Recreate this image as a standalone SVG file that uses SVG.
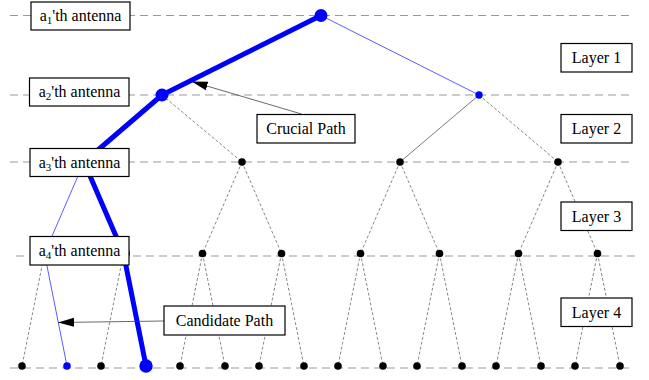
<svg xmlns="http://www.w3.org/2000/svg" width="649" height="380" viewBox="0 0 649 380">
  <style>
    .layer { stroke: #999; stroke-width: 1.2; stroke-dasharray: 8 5; fill: none; }
    .edge { stroke: #555; stroke-width: 0.7; stroke-dasharray: 3 2; fill: none; }
    .solid { stroke: #444; stroke-width: 0.7; fill: none; }
    .thin-blue { stroke: #4a4aff; stroke-width: 0.9; fill: none; }
    .thick-blue { stroke: #0000ff; stroke-width: 5; fill: none; stroke-linejoin: round; stroke-linecap: round; }
    .pointer { stroke: #444; stroke-width: 0.8; fill: none; }
    .dot { fill: #000; }
    .blue { fill: #0000ff; }
    .box { fill: #fff; stroke: #000; stroke-width: 1.2; }
    text { font-family: 'Liberation Serif', 'Times New Roman', Times, serif; font-size: 16px; fill: #000; text-anchor: middle; }
  </style>
  <defs>
    <marker id="arrow" markerUnits="userSpaceOnUse" markerWidth="18" markerHeight="12" viewBox="0 -6 18 12" refX="16" refY="0" orient="auto">
      <path d="M0,-4.5 L16,0 L0,4.5 z" fill="#000"/>
    </marker>
  </defs>

  <!-- antenna layer guide lines -->
  <g id="layer-lines">
    <line class="layer" x1="10" y1="15.5" x2="632" y2="15.5"/>
    <line class="layer" x1="10" y1="95" x2="632" y2="95"/>
    <line class="layer" x1="10" y1="162" x2="633" y2="162"/>
    <line class="layer" x1="16" y1="256" x2="637" y2="256"/>
    <line class="layer" x1="10" y1="368" x2="632" y2="368"/>
  </g>

  <!-- tree branches -->
  <g id="connectors">
    <line class="edge" x1="162" y1="95" x2="242" y2="162"/>
    <line class="edge" x1="479" y1="95" x2="558" y2="162"/>
    <line class="solid" x1="479" y1="95" x2="400" y2="162"/>

    <line class="edge" x1="242" y1="162" x2="202.5" y2="253.5"/>
    <line class="edge" x1="242" y1="162" x2="281.5" y2="253.5"/>
    <line class="edge" x1="400" y1="162" x2="360.5" y2="253.5"/>
    <line class="edge" x1="400" y1="162" x2="439.5" y2="253.5"/>
    <line class="edge" x1="558" y1="162" x2="518.5" y2="253.5"/>
    <line class="edge" x1="558" y1="162" x2="597.5" y2="253.5"/>

    <line class="edge" x1="44.5" y1="253.5" x2="22" y2="366"/>
    <line class="edge" x1="123.5" y1="253.5" x2="101" y2="366"/>
    <line class="edge" x1="202.5" y1="253.5" x2="180" y2="366"/>
    <line class="edge" x1="202.5" y1="253.5" x2="225" y2="366"/>
    <line class="edge" x1="281.5" y1="253.5" x2="259" y2="366"/>
    <line class="edge" x1="281.5" y1="253.5" x2="304" y2="366"/>
    <line class="edge" x1="360.5" y1="253.5" x2="338" y2="366"/>
    <line class="edge" x1="360.5" y1="253.5" x2="383" y2="366"/>
    <line class="edge" x1="439.5" y1="253.5" x2="417" y2="366"/>
    <line class="edge" x1="439.5" y1="253.5" x2="462" y2="366"/>
    <line class="edge" x1="518.5" y1="253.5" x2="496" y2="366"/>
    <line class="edge" x1="518.5" y1="253.5" x2="541" y2="366"/>
    <line class="edge" x1="597.5" y1="253.5" x2="575" y2="366"/>
    <line class="edge" x1="597.5" y1="253.5" x2="620" y2="366"/>

    <!-- candidate path -->
    <polyline class="thin-blue" points="321,15.5 479,95"/>
    <polyline class="thin-blue" points="84,162 44.5,253.5 67,366"/>
    <!-- crucial path -->
    <polyline class="thick-blue" points="321,15.5 162,95 84,162 123.5,253.5 146,366"/>
  </g>

  <!-- tree nodes -->
  <g id="nodes">
    <circle class="blue" cx="321" cy="15.5" r="6.5"/>
    <circle class="blue" cx="162" cy="95" r="6.5"/>
    <circle class="blue" cx="479" cy="95" r="3.7"/>

    <circle class="blue" cx="84" cy="162" r="6.5"/>
    <circle class="dot" cx="242" cy="162" r="3.8"/>
    <circle class="dot" cx="400" cy="162" r="3.8"/>
    <circle class="dot" cx="558" cy="162" r="3.8"/>

    <circle class="blue" cx="44.5" cy="253.5" r="3.7"/>
    <circle class="blue" cx="123.5" cy="253.5" r="6.5"/>
    <circle class="dot" cx="202.5" cy="253.5" r="3.8"/>
    <circle class="dot" cx="281.5" cy="253.5" r="3.8"/>
    <circle class="dot" cx="360.5" cy="253.5" r="3.8"/>
    <circle class="dot" cx="439.5" cy="253.5" r="3.8"/>
    <circle class="dot" cx="518.5" cy="253.5" r="3.8"/>
    <circle class="dot" cx="597.5" cy="253.5" r="3.8"/>

    <circle class="dot" cx="22" cy="366" r="3.8"/>
    <circle class="blue" cx="67" cy="366" r="3.8"/>
    <circle class="dot" cx="101" cy="366" r="3.8"/>
    <circle class="blue" cx="146" cy="366" r="6.7"/>
    <circle class="dot" cx="180" cy="366" r="3.8"/>
    <circle class="dot" cx="225" cy="366" r="3.8"/>
    <circle class="dot" cx="259" cy="366" r="3.8"/>
    <circle class="dot" cx="304" cy="366" r="3.8"/>
    <circle class="dot" cx="338" cy="366" r="3.8"/>
    <circle class="dot" cx="383" cy="366" r="3.8"/>
    <circle class="dot" cx="417" cy="366" r="3.8"/>
    <circle class="dot" cx="462" cy="366" r="3.8"/>
    <circle class="dot" cx="496" cy="366" r="3.8"/>
    <circle class="dot" cx="541" cy="366" r="3.8"/>
    <circle class="dot" cx="575" cy="366" r="3.8"/>
    <circle class="dot" cx="620" cy="366" r="3.8"/>
  </g>

  <!-- antenna labels -->
  <g id="antenna-1">
    <rect class="box" x="31" y="2" width="99" height="28"/>
    <text x="80.5" y="21">a<tspan font-size="11" dy="3">1</tspan><tspan dy="-3">'th antenna</tspan></text>
  </g>
  <g id="antenna-2">
    <rect class="box" x="29.5" y="78" width="99.5" height="28"/>
    <text x="79.5" y="97">a<tspan font-size="11" dy="3">2</tspan><tspan dy="-3">'th antenna</tspan></text>
  </g>
  <g id="antenna-3">
    <rect class="box" x="30" y="148.5" width="99" height="28"/>
    <text x="79.5" y="167.5">a<tspan font-size="11" dy="3">3</tspan><tspan dy="-3">'th antenna</tspan></text>
  </g>
  <g id="antenna-4">
    <rect class="box" x="30" y="236.5" width="99" height="28.5"/>
    <text x="79.5" y="256">a<tspan font-size="11" dy="3">4</tspan><tspan dy="-3">'th antenna</tspan></text>
  </g>

  <!-- layer labels -->
  <g id="layer-1">
    <rect class="box" x="561" y="43.5" width="71" height="28.5"/>
    <text x="596.5" y="63">Layer 1</text>
  </g>
  <g id="layer-2">
    <rect class="box" x="561" y="114.5" width="71" height="28.5"/>
    <text x="596.5" y="134">Layer 2</text>
  </g>
  <g id="layer-3">
    <rect class="box" x="561" y="202" width="71" height="28.5"/>
    <text x="596.5" y="221.5">Layer 3</text>
  </g>
  <g id="layer-4">
    <rect class="box" x="561" y="298" width="71" height="28.5"/>
    <text x="596.5" y="317.5">Layer 4</text>
  </g>

  <!-- path callouts -->
  <g id="crucial-path">
    <line class="pointer" x1="301.5" y1="114" x2="191.7" y2="81.5" marker-end="url(#arrow)"/>
    <rect class="box" x="257" y="114.5" width="98" height="28.5"/>
    <text x="306" y="134">Crucial Path</text>
  </g>
  <g id="candidate-path">
    <line class="pointer" x1="164" y1="321" x2="58" y2="322.5" marker-end="url(#arrow)"/>
    <rect class="box" x="164" y="306" width="121" height="29"/>
    <text x="224.5" y="325.5">Candidate Path</text>
  </g>
</svg>
